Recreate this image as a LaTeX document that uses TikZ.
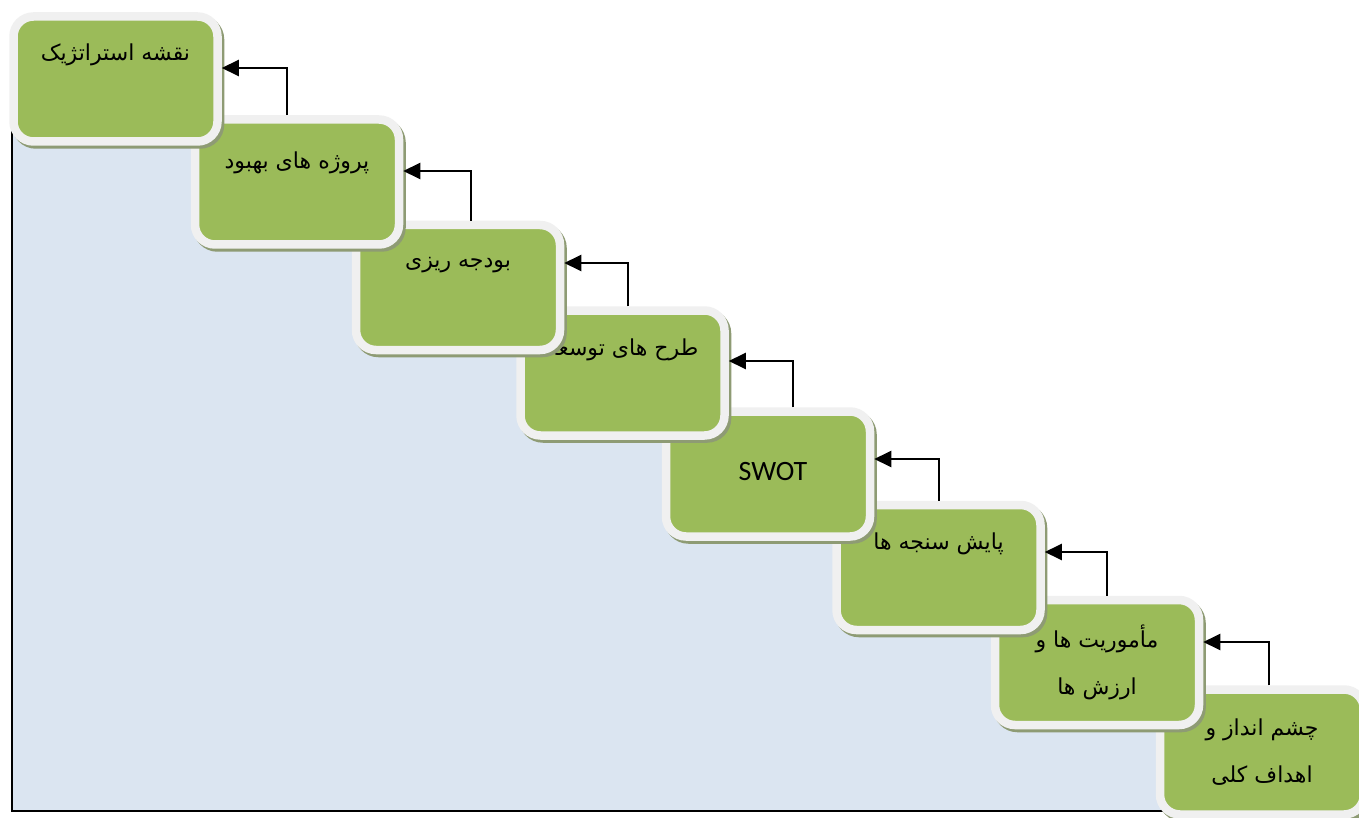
\documentclass[tikz,border=0pt]{standalone}
\usepackage{fontspec}
\TeXXeTstate=1
\newfontfamily\fa[Script=Arabic]{DejaVu Sans}
\newfontfamily\swotfont{Carlito}
\usetikzlibrary{arrows.meta,calc}
\definecolor{boxgreen}{HTML}{9BBB59}
\definecolor{boxframe}{HTML}{F0F0F0}
\definecolor{boxshadow}{HTML}{8E9B74}
\definecolor{bgblue}{HTML}{DBE5F1}
\tikzset{
  stepbox/.style={rectangle, rounded corners=20pt, minimum width=204pt, minimum height=125pt,
    inner sep=0pt, fill=boxgreen, draw=boxframe, line width=8.5pt,
    preaction={draw=boxshadow, fill=boxshadow, line width=8.5pt, transform canvas={xshift=2.5pt,yshift=-3pt}}},
  steptext/.style={inner sep=0pt, font=\fa\fontsize{22}{47}\selectfont, align=center, text=black},
  arr/.style={line width=2pt, -{Triangle[length=17pt,width=16pt]}}
}
\begin{document}
\begin{tikzpicture}[x=1pt,y=-1pt]
\clip (0,0) rectangle (1359,818);
\fill[white] (0,0) rectangle (1359,818);
% background staircase
\fill[bgblue] (12,79) -- (205.5,79) -- (205.5,182) -- (387,182) -- (387,287.5) -- (548,287.5)
  -- (548,373) -- (712.5,373) -- (712.5,474) -- (858,474) -- (858,567.5) -- (1028.5,567.5)
  -- (1028.5,662.5) -- (1187,662.5) -- (1187,811) -- (12,811) -- cycle;
\draw[line width=2.2pt] (12,100) -- (12,811) -- (1185,811);
% boxes, last first
\node[stepbox] (b8) at (1262,752) {};
\node[steptext] (t8) at (b8.center) {\beginR چشم انداز و\endR\\\beginR اهداف کلی\endR};
\node[stepbox] (b7) at (1097,662.5) {};
\node[steptext] (t7) at (b7.center) {\beginR مأموریت ها و\endR\\\beginR ارزش ها\endR};
\node[stepbox] (b6) at (938.5,567.5) {};
\node[steptext] (t6) at ($(b6.center)+(0,-24)$) {\beginR پایش سنجه ها\endR};
\node[stepbox] (b5) at (768,474) {};
\node[steptext, font=\swotfont\fontsize{28}{34}\selectfont] (t5) at ($(b5.center)+(5,-2)$) {SWOT};
\node[stepbox] (b4) at (622.5,373) {};
\node[steptext] (t4) at ($(b4.center)+(0,-23)$) {\beginR طرح های توسعه\endR};
\node[stepbox] (b3) at (458,287.5) {};
\node[steptext] (t3) at ($(b3.center)+(0,-22.5)$) {\beginR بودجه ریزی\endR};
\node[stepbox] (b2) at (297,182) {};
\node[steptext] (t2) at ($(b2.center)+(0,-19)$) {\beginR پروژه های بهبود\endR};
\node[stepbox] (b1) at (115.5,79) {};
\node[steptext] (t1) at ($(b1.center)+(0,-24)$) {\beginR نقشه استراتژیک\endR};
% arrows
\draw[arr] ([xshift=-10pt]b2.north) |- ([yshift=11pt]b1.east);
\draw[arr] ([xshift=13pt]b3.north) |- ([yshift=11pt]b2.east);
\draw[arr] ([xshift=5.5pt]b4.north) |- ([yshift=24.5pt]b3.east);
\draw[arr] ([xshift=25pt]b5.north) |- ([yshift=12pt]b4.east);
\draw[arr] ([xshift=0pt]b6.north) |- ([yshift=15pt]b5.east);
\draw[arr] ([xshift=10pt]b7.north) |- ([yshift=15.5pt]b6.east);
\draw[arr] ([xshift=7pt]b8.north) |- ([yshift=20.5pt]b7.east);
\end{tikzpicture}
\end{document}
